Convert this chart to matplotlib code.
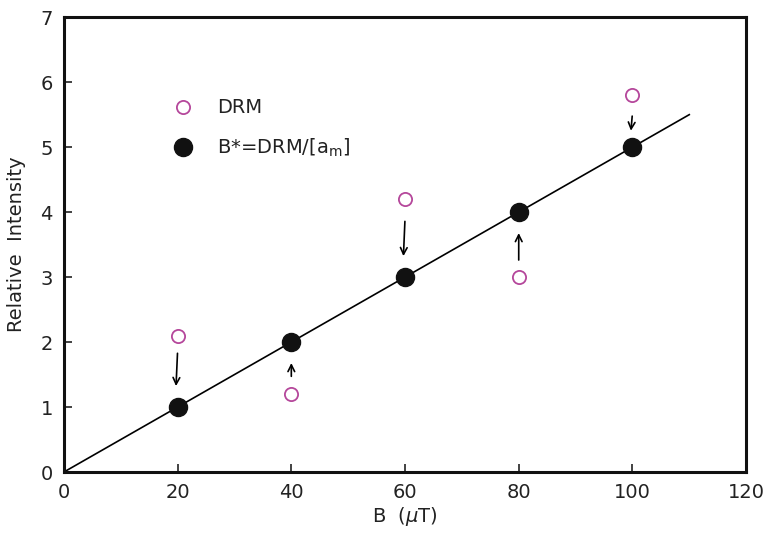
import matplotlib
matplotlib.use("Agg")
import matplotlib.pyplot as plt
from matplotlib.lines import Line2D

B = [20, 40, 60, 80, 100]
drm = [2.1, 1.2, 4.2, 3.0, 5.8]
bstar = [1, 2, 3, 4, 5]
arrow_start = [1.87, 1.43, 3.90, 3.22, 5.52]
arrow_end = [1.28, 1.72, 3.28, 3.72, 5.21]
fit_x = [0, 110]
fit_y = [0, 5.5]

plt.rcParams['font.family'] = ['DejaVu Sans']
fig = plt.figure(figsize=(7.7, 5.37), dpi=100)
ax = fig.add_axes([0.083, 0.121, 0.886, 0.847])

ax.plot(fit_x, fit_y, color='black', lw=1.2, zorder=1)
ax.plot(B, drm, 'o', ms=9.5, mfc='white', mec='#b5479b', mew=1.3, ls='none', zorder=3)
ax.plot(B, bstar, 'o', ms=13, mfc='#111111', mec='#111111', ls='none', zorder=3)
for x, s, e in zip(B, arrow_start, arrow_end):
    ax.annotate('', xy=(x - 0.3 if s > e else x, e), xytext=(x, s),
                arrowprops=dict(arrowstyle='->', color='black', lw=1.2, mutation_scale=12))

ax.set_xlim(0, 120)
ax.set_ylim(0, 7)
ax.set_xticks(range(0, 121, 20))
ax.set_yticks(range(0, 8))
ax.tick_params(direction='in', length=6, width=1.2, labelsize=14, pad=8, colors='#222222')
for sp in ax.spines.values():
    sp.set_linewidth(2.2)
    sp.set_color('#111111')
ax.set_xlabel('B  ($\\mu$T)', fontsize=14, color='#222222', labelpad=2)
ax.set_ylabel('Relative  Intensity', fontsize=14, color='#222222', labelpad=10)

handles = [
    Line2D([], [], marker='o', ls='none', ms=9.5, mfc='white', mec='#b5479b', mew=1.3),
    Line2D([], [], marker='o', ls='none', ms=13, mfc='#111111', mec='#111111'),
]
ax.legend(handles, ['DRM', 'B*=DRM/[a$_\\mathregular{m}$]'], loc='upper left',
          bbox_to_anchor=(0.121, 0.86), frameon=False, fontsize=14,
          labelspacing=1.0, handletextpad=0.75, labelcolor='#222222')

fig.savefig('out.png', dpi=100)
